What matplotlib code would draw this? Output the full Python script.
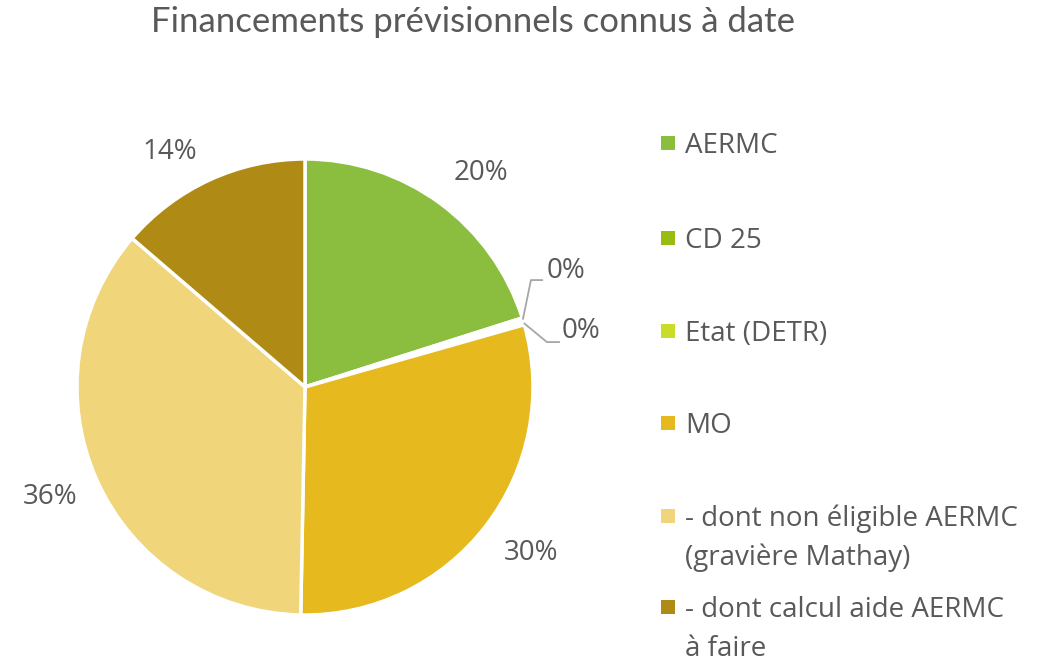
import numpy as np
import matplotlib
matplotlib.use("Agg")
import matplotlib.pyplot as plt
from matplotlib.patches import Rectangle

categories = ["AERMC", "CD 25", "Etat (DETR)", "MO",
              "- dont non éligible AERMC\n(gravière Mathay)",
              "- dont calcul aide AERMC\nà faire"]
values = [20.1, 0.25, 0.25, 29.7, 36.0, 13.7]
pct_labels = ["20%", "0%", "0%", "30%", "36%", "14%"]
colors = ["#8BBE3F", "#98BC12", "#C8DC28", "#E6B91E", "#F0D57B", "#AF8B16"]

W, H = 1051, 661
fig = plt.figure(figsize=(W / 100, H / 100), dpi=100)
cx, cy, R = 305, 387, 228
ax = fig.add_axes([(cx - R) / W, (H - cy - R) / H, 2 * R / W, 2 * R / H])

wedges, _ = ax.pie(values, colors=colors, startangle=90, counterclock=False,
                   radius=1.0, wedgeprops=dict(edgecolor="white", linewidth=2.5))
ax.set_xlim(-1, 1)
ax.set_ylim(-1, 1)
ax.set_aspect("equal")
ax.axis("off")

txt_color = "#595959"
font = "Open Sans"
fs = 20

# label placement (data units of the pie, radius = 1)
label_pos = {0: (0.772, 0.939), 3: (0.991, -0.728),
             4: (-1.118, -0.482), 5: (-0.592, 1.031)}
for i, (x, y) in label_pos.items():
    ax.text(x, y, pct_labels[i], ha="center", va="center", fontsize=fs,
            color=txt_color, family=font)

# small-slice labels with leader lines
small = [i for i, v in enumerate(values) if v < 1]
leader = {small[0]: ((0.991, 0.469), (1.044, 0.469), (1.145, 0.509)),
          small[1]: ((1.061, 0.197), (1.118, 0.197), (1.21, 0.246))}
for i in small:
    w = wedges[i]
    th = np.deg2rad((w.theta1 + w.theta2) / 2)
    p0 = (np.cos(th), np.sin(th))
    elbow, end, tpos = leader[i]
    ax.plot([p0[0], elbow[0], end[0]], [p0[1], elbow[1], end[1]],
            color="#A6A6A6", lw=1.3, clip_on=False, solid_capstyle="butt")
    ax.text(tpos[0], tpos[1], pct_labels[i], ha="center", va="center",
            fontsize=fs, color=txt_color, family=font)

# title
fig.text(473 / W, 1 - 22 / H, "Financements prévisionnels connus à date",
         ha="center", va="center", fontsize=25, color="#595959",
         family="Lato", fontweight="normal")

# legend
leg_y = [143, 238, 331, 423, 516, 607]
line_gap = 39
for y, lab, c in zip(leg_y, categories, colors):
    fig.patches.append(Rectangle((661 / W, 1 - (y + 7) / H), 14 / W, 14 / H,
                                 transform=fig.transFigure, facecolor=c,
                                 edgecolor="none"))
    for k, line in enumerate(lab.split("\n")):
        fig.text(685 / W, 1 - (y + 10 + k * line_gap) / H, line,
                 ha="left", va="baseline", fontsize=fs, color=txt_color,
                 family=font)

fig.savefig("out.png", dpi=100)
